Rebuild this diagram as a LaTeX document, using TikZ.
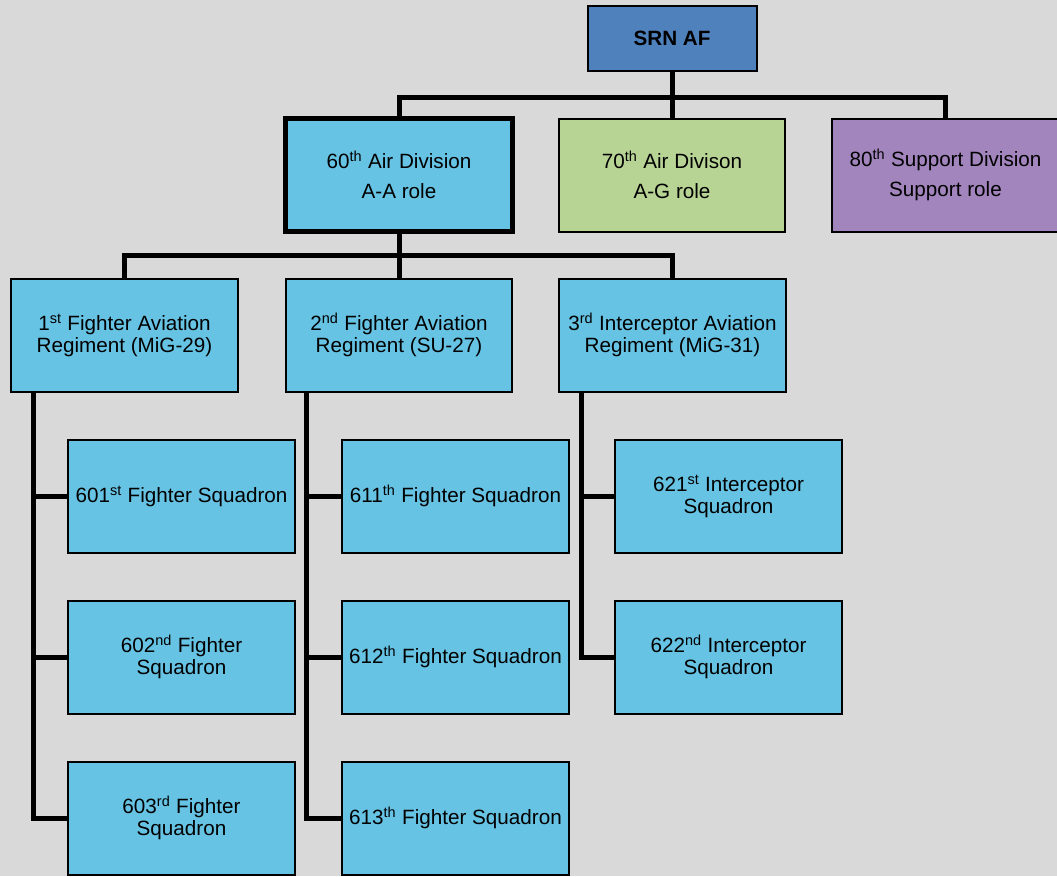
\documentclass[tikz,border=0pt]{standalone}
\usepackage{fontspec}
\setmainfont{Liberation Sans}
\usetikzlibrary{positioning}
\definecolor{canvas}{HTML}{D9D9D9}
\definecolor{hqblue}{HTML}{4F81BD}
\definecolor{unitblue}{HTML}{67C3E4}
\definecolor{agreen}{HTML}{B8D495}
\definecolor{suppurple}{HTML}{A385BE}
\newcommand{\sps}[1]{\textsuperscript{#1}}

\begin{document}
\begin{tikzpicture}[
    x=0.75pt, y=-0.75pt,
    node distance=34.5pt,
    unit/.style={rectangle, draw, line width=1.5pt, fill=unitblue, align=center,
      minimum width=170pt, minimum height=84.75pt, inner sep=1pt,
      font=\fontsize{15.5}{16.5}\selectfont},
    division/.style={unit, font=\fontsize{15.5}{23}\selectfont},
    link/.style={line width=3.75pt}
]
\fill[canvas] (0,0) rectangle (1057,876);
\useasboundingbox (0,0) rectangle (1057,876);

% Headquarters
\node[unit, fill=hqblue, minimum width=126.75pt, minimum height=48.75pt,
  font=\fontsize{15.5}{16.5}\selectfont\bfseries] (srn) at (672,38.5) {SRN AF};

% Divisions
\node[division, line width=3.5pt] (ad60) at (399,175) {60\sps{th} Air Division\\A-A role};
\node[division, fill=agreen] (ad70) at (672,175) {70\sps{th} Air Divison\\A-G role};
\node[division, fill=suppurple] (sd80) at (945.5,175) {80\sps{th} Support Division\\Support role};

% Regiments
\node[unit] (far1) at (124.5,335) {1\sps{st} Fighter Aviation\\Regiment (MiG-29)};
\node[unit] (far2) at (399,335) {2\sps{nd} Fighter Aviation\\Regiment (SU-27)};
\node[unit] (iar3) at (672.5,335) {3\sps{rd} Interceptor Aviation\\Regiment (MiG-31)};

% Squadrons
\node[unit] (sq601) at (181.5,496) {601\sps{st} Fighter Squadron};
\node[unit, below=of sq601] (sq602) {602\sps{nd} Fighter\\Squadron};
\node[unit, below=of sq602] (sq603) {603\sps{rd} Fighter\\Squadron};
\node[unit] (sq611) at (455.5,496) {611\sps{th} Fighter Squadron};
\node[unit, below=of sq611] (sq612) {612\sps{th} Fighter Squadron};
\node[unit, below=of sq612] (sq613) {613\sps{th} Fighter Squadron};
\node[unit] (sq621) at (728.5,496) {621\sps{st} Interceptor\\Squadron};
\node[unit, below=of sq621] (sq622) {622\sps{nd} Interceptor\\Squadron};

% Connectors
\coordinate (busA) at (672,97);
\coordinate (busB) at (399,255);
\draw[link] (srn) -- (ad70);
\draw[link] (ad60.north) |- (busA) -| (sd80.north);
\draw[link] (ad60) -- (far2);
\draw[link] (far1.north) |- (busB) -| (iar3.north);

\coordinate (spine1) at ([xshift=17.25pt]far1.south west);
\coordinate (spine2) at ([xshift=16.5pt]far2.south west);
\coordinate (spine3) at ([xshift=17.25pt]iar3.south west);
\draw[link] (spine1) |- (sq603.west);
\draw[link] (spine1 |- sq601.west) -- (sq601.west);
\draw[link] (spine1 |- sq602.west) -- (sq602.west);
\draw[link] (spine2) |- (sq613.west);
\draw[link] (spine2 |- sq611.west) -- (sq611.west);
\draw[link] (spine2 |- sq612.west) -- (sq612.west);
\draw[link] (spine3) |- (sq622.west);
\draw[link] (spine3 |- sq621.west) -- (sq621.west);

\end{tikzpicture}
\end{document}
